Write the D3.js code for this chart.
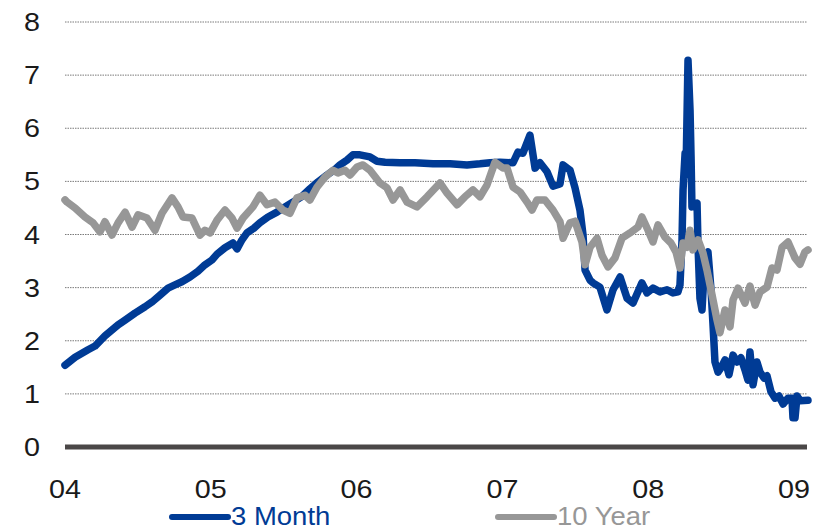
<!DOCTYPE html>
<html>
<head>
<meta charset="utf-8">
<script src="https://cdn.jsdelivr.net/npm/d3@7"></script>
<style>
  html, body { margin: 0; padding: 0; background: #fff; }
  svg { display: block; }
  text { font-family: "Liberation Sans", Arial, sans-serif; }
</style>
</head>
<body>
<svg id="chart" width="825" height="530"></svg>
<script>
// Yields in percent; dates as decimal years
const threeMonth = [
  [2004.000,1.54],[2004.069,1.69],[2004.158,1.83],[2004.206,1.90],[2004.274,2.09],
  [2004.364,2.30],[2004.412,2.39],[2004.480,2.52],[2004.549,2.64],[2004.597,2.73],
  [2004.652,2.86],[2004.707,2.99],[2004.754,3.05],[2004.802,3.11],[2004.857,3.20],
  [2004.912,3.31],[2004.960,3.43],[2005.008,3.52],[2005.043,3.63],[2005.097,3.75],
  [2005.152,3.84],[2005.180,3.73],[2005.214,3.90],[2005.248,4.03],[2005.296,4.12],
  [2005.337,4.22],[2005.392,4.33],[2005.454,4.42],[2005.509,4.52],[2005.564,4.61],
  [2005.626,4.72],[2005.680,4.86],[2005.735,4.99],[2005.797,5.12],[2005.845,5.21],
  [2005.886,5.31],[2005.934,5.40],[2005.975,5.50],[2006.023,5.50],[2006.092,5.46],
  [2006.140,5.38],[2006.195,5.36],[2006.298,5.35],[2006.401,5.35],[2006.524,5.33],
  [2006.641,5.33],[2006.757,5.31],[2006.846,5.33],[2006.915,5.35],[2006.984,5.36],
  [2007.073,5.35],[2007.107,5.55],[2007.141,5.53],[2007.189,5.87],[2007.224,5.25],
  [2007.258,5.35],[2007.306,5.18],[2007.347,4.91],[2007.395,4.95],[2007.416,5.31],
  [2007.464,5.21],[2007.498,4.88],[2007.532,4.46],[2007.553,3.99],[2007.567,3.33],
  [2007.601,3.14],[2007.621,3.09],[2007.669,3.01],[2007.717,2.58],[2007.759,2.96],
  [2007.807,3.20],[2007.855,2.80],[2007.896,2.71],[2007.957,3.09],[2007.992,2.90],
  [2008.033,2.99],[2008.081,2.92],[2008.129,2.96],[2008.170,2.90],[2008.204,2.92],
  [2008.218,3.05],[2008.232,3.90],[2008.239,4.84],[2008.253,5.53],[2008.259,5.12],
  [2008.273,7.28],[2008.287,6.34],[2008.294,5.46],[2008.300,4.52],[2008.321,4.56],
  [2008.335,4.59],[2008.342,3.76],[2008.355,2.80],[2008.369,2.58],[2008.390,3.61],
  [2008.410,3.67],[2008.431,2.96],[2008.444,2.33],[2008.458,1.60],[2008.479,1.41],
  [2008.499,1.49],[2008.527,1.64],[2008.554,1.36],[2008.582,1.73],[2008.609,1.60],
  [2008.636,1.68],[2008.664,1.45],[2008.684,1.26],[2008.698,1.79],[2008.719,1.17],
  [2008.746,1.60],[2008.767,1.41],[2008.794,1.30],[2008.815,1.34],[2008.842,1.04],
  [2008.870,0.92],[2008.897,0.96],[2008.925,0.81],[2008.959,0.92],[2008.986,0.92],
  [2008.993,0.55],[2009.007,0.55],[2009.021,0.96],[2009.041,0.87],[2009.096,0.88]
];

const tenYear = [
  [2004.000,4.65],[2004.014,4.61],[2004.069,4.50],[2004.137,4.33],[2004.192,4.22],
  [2004.240,4.05],[2004.274,4.24],[2004.322,3.99],[2004.364,4.22],[2004.412,4.42],
  [2004.460,4.14],[2004.501,4.37],[2004.562,4.31],[2004.617,4.08],[2004.665,4.40],
  [2004.734,4.69],[2004.775,4.52],[2004.809,4.33],[2004.871,4.31],[2004.926,3.99],
  [2004.960,4.08],[2004.995,4.03],[2005.043,4.27],[2005.097,4.46],[2005.145,4.31],
  [2005.180,4.12],[2005.221,4.31],[2005.289,4.52],[2005.337,4.74],[2005.385,4.56],
  [2005.440,4.61],[2005.495,4.46],[2005.543,4.40],[2005.591,4.69],[2005.646,4.74],
  [2005.680,4.65],[2005.728,4.89],[2005.783,5.08],[2005.838,5.21],[2005.872,5.16],
  [2005.920,5.21],[2005.955,5.12],[2006.003,5.27],[2006.044,5.31],[2006.092,5.21],
  [2006.160,4.97],[2006.208,4.88],[2006.250,4.65],[2006.298,4.84],[2006.346,4.61],
  [2006.414,4.52],[2006.483,4.71],[2006.572,4.97],[2006.620,4.78],[2006.689,4.56],
  [2006.743,4.71],[2006.798,4.84],[2006.846,4.71],[2006.894,4.93],[2006.949,5.36],
  [2007.004,5.25],[2007.032,5.25],[2007.073,4.89],[2007.121,4.80],[2007.169,4.61],
  [2007.203,4.46],[2007.237,4.65],[2007.292,4.65],[2007.347,4.46],[2007.395,4.24],
  [2007.416,3.93],[2007.464,4.22],[2007.498,4.25],[2007.546,3.86],[2007.567,3.43],
  [2007.601,3.76],[2007.649,3.93],[2007.683,3.61],[2007.724,3.39],[2007.772,3.56],
  [2007.820,3.93],[2007.875,4.03],[2007.930,4.14],[2007.957,4.33],[2007.999,4.08],
  [2008.033,3.86],[2008.067,4.18],[2008.115,3.95],[2008.156,3.84],[2008.191,3.67],
  [2008.218,3.37],[2008.239,3.84],[2008.266,3.76],[2008.287,4.08],[2008.307,3.71],
  [2008.342,3.90],[2008.376,3.65],[2008.403,3.33],[2008.438,2.86],[2008.472,2.39],
  [2008.492,2.15],[2008.527,2.58],[2008.561,2.26],[2008.582,2.77],[2008.616,2.99],
  [2008.664,2.71],[2008.698,3.03],[2008.733,2.67],[2008.767,2.92],[2008.815,3.01],
  [2008.849,3.37],[2008.883,3.33],[2008.918,3.76],[2008.959,3.86],[2009.007,3.56],
  [2009.041,3.44],[2009.075,3.67],[2009.096,3.71]
];

const yTicks = [0, 1, 2, 3, 4, 5, 6, 7, 8];
const xTicks = [2004, 2005, 2006, 2007, 2008, 2009];
const xTickLabels = ["04", "05", "06", "07", "08", "09"];
const seriesNames = ["3 Month", "10 Year"];
const seriesColors = ["#003B95", "#979797"];

const svg = d3.select("#chart");
const plot = { left: 65, right: 807 };

const x = d3.scaleLinear().domain([2004, 2009]).range([65, 794]);
const y = d3.scaleLinear().domain([0, 8]).range([447, 22]);

// dotted horizontal gridlines
svg.append("g")
  .selectAll("line")
  .data(yTicks.filter(d => d > 0))
  .join("line")
  .attr("x1", plot.left).attr("x2", plot.right)
  .attr("y1", d => y(d)).attr("y2", d => y(d))
  .attr("stroke", "#7a7a7a")
  .attr("stroke-width", 1)
  .attr("stroke-dasharray", "1.5,1");

// y tick labels
svg.append("g")
  .selectAll("text")
  .data(yTicks)
  .join("text")
  .attr("transform", d => `translate(40,${y(d) + 9}) scale(1.15,1)`)
  .attr("text-anchor", "end")
  .attr("font-size", 25)
  .attr("fill", "#1a1a1a")
  .text(d => d);

// x tick labels
svg.append("g")
  .selectAll("text")
  .data(xTicks)
  .join("text")
  .attr("transform", d => `translate(${x(d)},498) scale(1.15,1)`)
  .attr("text-anchor", "middle")
  .attr("font-size", 25)
  .attr("fill", "#1a1a1a")
  .text((d, i) => xTickLabels[i]);

const line = d3.line()
  .x(d => x(d[0]))
  .y(d => y(d[1]));

const lineStyle = sel => sel
  .attr("fill", "none")
  .attr("stroke-width", 7.5)
  .attr("stroke-linejoin", "round")
  .attr("stroke-linecap", "round");

svg.append("path")
  .datum(threeMonth)
  .attr("d", line)
  .attr("stroke", seriesColors[0])
  .call(lineStyle);

svg.append("path")
  .datum(tenYear)
  .attr("d", line)
  .attr("stroke", seriesColors[1])
  .call(lineStyle);

// zero baseline
svg.append("line")
  .attr("x1", plot.left).attr("x2", plot.right)
  .attr("y1", y(0)).attr("y2", y(0))
  .attr("stroke", "#4a4747")
  .attr("stroke-width", 5);

// legend
const legendX = [172, 498];
const legend = svg.append("g")
  .selectAll("g")
  .data(seriesNames)
  .join("g")
  .attr("transform", (d, i) => `translate(${legendX[i]},0)`);

legend.append("line")
  .attr("x1", 0).attr("x2", 56)
  .attr("y1", 517).attr("y2", 517)
  .attr("stroke", (d, i) => seriesColors[i])
  .attr("stroke-width", 6)
  .attr("stroke-linecap", "round");

legend.append("text")
  .attr("transform", "translate(59,525) scale(1.1,1)")
  .attr("font-size", 25)
  .attr("fill", (d, i) => seriesColors[i])
  .text(d => d);
</script>
</body>
</html>
